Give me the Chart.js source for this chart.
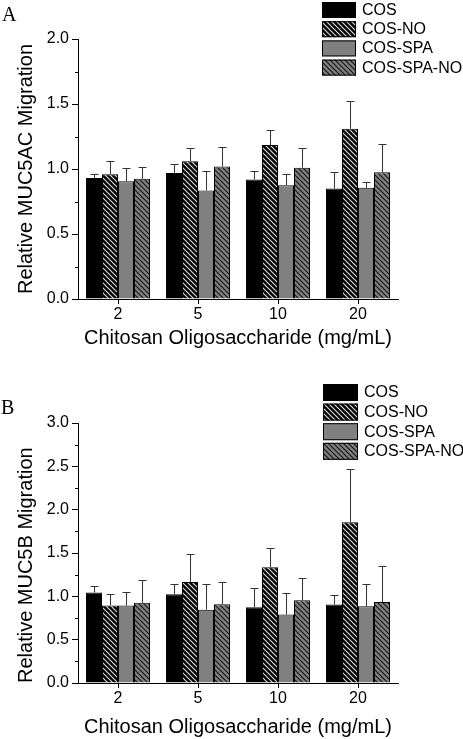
<!DOCTYPE html>
<html>
<head>
<meta charset="utf-8">
<script src="https://cdn.jsdelivr.net/npm/chart.js@4"></script>
<style>
  body { margin: 0; background: #fff; overflow: hidden; }
  #wrap { position: relative; width: 463px; height: 739px; }
  canvas { position: absolute; left: 0; }
  .panel { position: absolute; font: 20px "Liberation Serif", "Times New Roman", serif; line-height: 20px; color: #000; z-index: 2; }
</style>
</head>
<body>
<div id="wrap">
  <div class="panel" style="left:2px;top:4px">A</div>
  <canvas id="chartA" width="463" height="370" style="top:0"></canvas>
  <div class="panel" style="left:1px;top:397px">B</div>
  <canvas id="chartB" width="463" height="369" style="top:370px"></canvas>
</div>
<script>
const categories = ['2', '5', '10', '20'];
const seriesNames = ['COS', 'COS-NO', 'COS-SPA', 'COS-SPA-NO'];

// panel A: MUC5AC (mean, upper SD)
const acCos = [0.93, 0.97, 0.92, 0.85];
const acCosErr = [0.03, 0.07, 0.065, 0.13];
const acCosNo = [0.96, 1.06, 1.185, 1.31];
const acCosNoErr = [0.10, 0.10, 0.115, 0.215];
const acCosSpa = [0.905, 0.835, 0.875, 0.855];
const acCosSpaErr = [0.105, 0.15, 0.09, 0.045];
const acCosSpaNo = [0.925, 1.02, 1.01, 0.975];
const acCosSpaNoErr = [0.09, 0.15, 0.15, 0.215];

// panel B: MUC5B
const bCos = [1.045, 1.025, 0.875, 0.905];
const bCosErr = [0.08, 0.12, 0.225, 0.11];
const bCosNo = [0.895, 1.165, 1.335, 1.855];
const bCosNoErr = [0.13, 0.32, 0.22, 0.61];
const bCosSpa = [0.895, 0.845, 0.79, 0.885];
const bCosSpaErr = [0.155, 0.30, 0.25, 0.255];
const bCosSpaNo = [0.925, 0.91, 0.955, 0.935];
const bCosSpaNoErr = [0.26, 0.26, 0.26, 0.41];

const FONT = '"Liberation Sans", Arial, sans-serif';

function hatch(ctx, bg, fg) {
  const s = 5;
  const c = document.createElement('canvas');
  c.width = s; c.height = s;
  const g = c.getContext('2d');
  g.fillStyle = bg;
  g.fillRect(0, 0, s, s);
  g.strokeStyle = fg;
  g.lineWidth = 1.1;
  g.beginPath();
  g.moveTo(0, 0); g.lineTo(s, s);
  g.moveTo(-1, s - 1); g.lineTo(1, s + 1);
  g.moveTo(s - 1, -1); g.lineTo(s + 1, 1);
  g.stroke();
  return ctx.createPattern(c, 'repeat');
}

// error bars, minor y ticks and the boxed legend
const extras = {
  id: 'extras',
  afterDatasetsDraw(chart, args, opts) {
    const ctx = chart.ctx;
    const y = chart.scales.y;
    ctx.save();
    ctx.strokeStyle = '#333';
    ctx.lineWidth = 1;
    chart.data.datasets.forEach((ds, i) => {
      chart.getDatasetMeta(i).data.forEach((bar, j) => {
        const top = y.getPixelForValue(ds.data[j] + ds.err[j]);
        const x = Math.round(bar.x) + 0.5;
        const yt = Math.round(top) + 0.5;
        ctx.beginPath();
        ctx.moveTo(x, bar.y);
        ctx.lineTo(x, yt);
        ctx.moveTo(x - 4, yt);
        ctx.lineTo(x + 4, yt);
        ctx.stroke();
      });
    });
    // minor ticks
    ctx.strokeStyle = '#000';
    const left = chart.chartArea.left;
    for (let v = opts.minor; v < y.max; v += opts.minor * 2) {
      const py = Math.round(y.getPixelForValue(v)) + 0.5;
      ctx.beginPath();
      ctx.moveTo(left - 3, py);
      ctx.lineTo(left, py);
      ctx.stroke();
    }
    ctx.restore();
  },
  afterDraw(chart, args, opts) {
    const ctx = chart.ctx;
    ctx.save();
    ctx.font = '16px ' + FONT;
    ctx.textBaseline = 'middle';
    ctx.textAlign = 'left';
    chart.data.datasets.forEach((ds, i) => {
      const top = opts.top + i * opts.gap;
      ctx.fillStyle = ds.backgroundColor;
      ctx.fillRect(opts.left, top, opts.boxW, opts.boxH);
      ctx.strokeStyle = '#000';
      ctx.lineWidth = 1;
      ctx.strokeRect(opts.left + 0.5, top + 0.5, opts.boxW - 1, opts.boxH - 1);
      ctx.fillStyle = '#000';
      ctx.fillText(ds.label, opts.left + opts.boxW + 6, top + opts.boxH / 2 + 0.5);
    });
    ctx.restore();
  }
};

function makeChart(id, series, errs, cfg) {
  const canvas = document.getElementById(id);
  const ctx = canvas.getContext('2d');
  const fills = ['#000', hatch(ctx, '#000', '#e0e0e0'), '#808080', hatch(ctx, '#808080', '#111')];
  const datasets = seriesNames.map((name, i) => ({
    label: name,
    data: series[i],
    err: errs[i],
    backgroundColor: fills[i],
    borderColor: '#000',
    borderWidth: 1,
    categoryPercentage: 0.8,
    barPercentage: 1.0
  }));
  return new Chart(canvas, {
    type: 'bar',
    data: { labels: categories, datasets: datasets },
    plugins: [extras],
    options: {
      responsive: false,
      animation: false,
      events: [],
      layout: { padding: { top: cfg.top, right: 65, left: 0, bottom: 0 } },
      plugins: {
        legend: { display: false },
        tooltip: { enabled: false },
        extras: cfg.legend
      },
      scales: {
        x: {
          grid: { drawOnChartArea: false, offset: false, tickLength: 5, color: '#000' },
          border: { color: '#000', width: 1 },
          ticks: { color: '#000', font: { family: FONT, size: 16 }, padding: 1, maxRotation: 0 },
          title: { display: true, text: 'Chitosan Oligosaccharide (mg/mL)', color: '#000',
                   font: { family: FONT, size: 20 }, padding: { top: 0, bottom: cfg.xTitlePad } },
          afterFit: s => { s.height = cfg.xHeight; }
        },
        y: {
          min: 0, max: cfg.max,
          grid: { drawOnChartArea: false, tickLength: 6, color: '#000' },
          border: { color: '#000', width: 1 },
          ticks: { stepSize: 0.5, color: '#000', font: { family: FONT, size: 16 }, padding: 3,
                   callback: v => v.toFixed(1) },
          title: { display: true, text: cfg.yTitle, color: '#000', align: cfg.yAlign,
                   font: { family: FONT, size: 20 }, padding: { top: 14, bottom: 0 } },
          afterFit: s => { s.width = 78; }
        }
      }
    }
  });
}

makeChart('chartA',
  [acCos, acCosNo, acCosSpa, acCosSpaNo],
  [acCosErr, acCosNoErr, acCosSpaErr, acCosSpaNoErr],
  { top: 39, max: 2.0, xHeight: 71, xTitlePad: 20, yTitle: 'Relative MUC5AC Migration', yAlign: 'center',
    legend: { left: 322, top: 2, gap: 19.2, boxW: 34, boxH: 16, minor: 0.25 } });

makeChart('chartB',
  [bCos, bCosNo, bCosSpa, bCosSpaNo],
  [bCosErr, bCosNoErr, bCosSpaErr, bCosSpaNoErr],
  { top: 53, max: 3.0, xHeight: 56, xTitlePad: 0, yTitle: 'Relative MUC5B Migration', yAlign: 'start',
    legend: { left: 323, top: 14, gap: 19.6, boxW: 35, boxH: 17, minor: 0.25 } });
</script>
</body>
</html>
